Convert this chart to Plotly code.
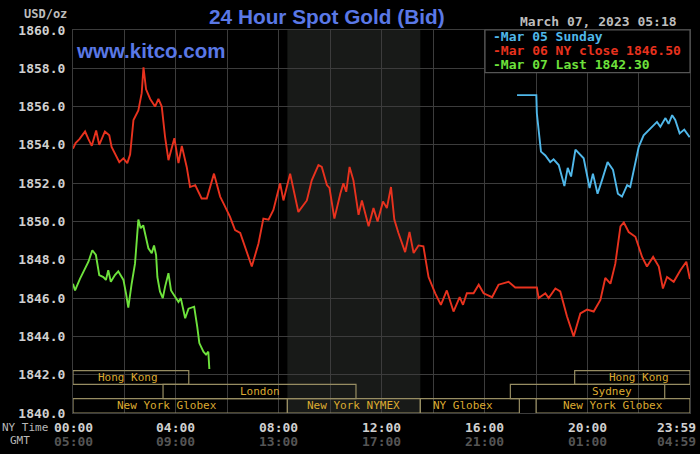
import plotly.graph_objects as go

# ---------------- data ----------------
red_hours = [0.0, 0.1, 0.25, 0.47, 0.6, 0.73, 0.9, 1.02, 1.24, 1.41, 1.5, 1.65, 1.8, 1.96, 2.11, 2.22,
             2.35, 2.54, 2.67, 2.74, 2.84, 3.0, 3.19, 3.32, 3.45, 3.58, 3.71, 3.94, 4.1, 4.23, 4.42,
             4.55, 4.75, 5.0, 5.2, 5.48, 5.72, 5.85, 6.1, 6.3, 6.5, 6.95, 7.21, 7.4, 7.6, 7.79, 8.05,
             8.18, 8.44, 8.76, 9.09, 9.28, 9.54, 9.67, 9.87, 9.97, 10.16, 10.39, 10.51, 10.62, 10.75,
             10.9, 11.1, 11.23, 11.49, 11.68, 11.84, 12.05, 12.2, 12.36, 12.49, 12.65, 12.91, 13.08,
             13.24, 13.43, 13.62, 13.82, 14.08, 14.3, 14.53, 14.79, 15.03, 15.16, 15.31, 15.57, 15.77,
             15.96, 16.29, 16.54, 16.93, 17.19, 18.03, 18.1, 18.36, 18.49, 18.75, 18.94, 19.2, 19.46,
             19.72, 19.98, 20.24, 20.5, 20.69, 20.89, 21.08, 21.28, 21.41, 21.6, 21.86, 22.12, 22.31,
             22.55, 22.77, 22.93, 23.09, 23.35, 23.61, 23.84, 23.98]
red_vals = [1853.8, 1854.1, 1854.3, 1854.7, 1854.3, 1853.95, 1854.75, 1854.0, 1854.7, 1854.5, 1853.9,
            1853.5, 1853.1, 1853.3, 1853.05, 1853.5, 1855.3, 1855.8, 1856.7, 1858.05, 1856.9, 1856.4,
            1856.0, 1856.4, 1856.0, 1854.4, 1853.2, 1854.35, 1853.05, 1853.95, 1852.85, 1851.8, 1851.9,
            1851.2, 1851.2, 1852.5, 1851.3, 1850.95, 1850.25, 1849.55, 1849.4, 1847.65, 1848.85, 1850.15,
            1850.1, 1850.6, 1852.0, 1851.1, 1852.5, 1850.5, 1851.1, 1852.15, 1852.95, 1852.85, 1851.9,
            1851.75, 1850.15, 1851.45, 1852.0, 1851.55, 1852.85, 1852.15, 1850.35, 1851.1, 1849.75,
            1850.7, 1850.0, 1851.05, 1850.7, 1851.8, 1850.1, 1849.4, 1848.4, 1849.45, 1848.35, 1848.75,
            1848.7, 1847.1, 1846.25, 1845.65, 1846.4, 1845.3, 1846.05, 1845.65, 1846.25, 1846.25, 1846.7,
            1846.25, 1846.05, 1846.7, 1846.85, 1846.55, 1846.55, 1846.0, 1846.25, 1846.0, 1846.5, 1846.35,
            1845.05, 1844.0, 1845.2, 1845.4, 1845.3, 1845.9, 1847.05, 1846.75, 1847.8, 1849.75, 1849.95,
            1849.45, 1849.2, 1848.15, 1847.65, 1848.15, 1847.65, 1846.5, 1847.1, 1846.85, 1847.45,
            1847.9, 1847.0]

blue_hours = [17.26, 18.01, 18.03, 18.1, 18.19, 18.36, 18.55, 18.68, 18.88, 19.1, 19.23, 19.36, 19.53,
              19.85, 20.08, 20.21, 20.39, 20.56, 20.78, 20.99, 21.18, 21.34, 21.54, 21.66, 21.86, 21.99,
              22.18, 22.44, 22.7, 22.83, 23.03, 23.15, 23.29, 23.41, 23.58, 23.76, 23.97]
blue_vals = [1856.6, 1856.6, 1855.65, 1854.6, 1853.65, 1853.45, 1853.1, 1853.25, 1852.95, 1851.85,
             1852.8, 1852.35, 1853.75, 1853.3, 1851.75, 1852.5, 1851.45, 1852.15, 1853.1, 1852.7,
             1851.45, 1851.3, 1851.9, 1851.8, 1853.05, 1853.9, 1854.5, 1854.85, 1855.2, 1854.95,
             1855.4, 1855.1, 1855.55, 1855.3, 1854.6, 1854.8, 1854.4]

green_hours = [0.0, 0.08, 0.27, 0.47, 0.6, 0.75, 0.89, 1.02, 1.18, 1.28, 1.37, 1.47, 1.63, 1.76, 1.96,
               2.06, 2.15, 2.28, 2.41, 2.54, 2.63, 2.73, 2.84, 2.93, 3.06, 3.15, 3.23, 3.28, 3.38, 3.49,
               3.58, 3.71, 3.81, 3.97, 4.1, 4.19, 4.36, 4.49, 4.71, 4.83, 4.91, 5.07, 5.17, 5.26, 5.3]
green_vals = [1846.75, 1846.4, 1847.0, 1847.55, 1847.9, 1848.5, 1848.25, 1847.2, 1847.1, 1846.95,
              1847.45, 1846.85, 1847.2, 1847.4, 1846.95, 1846.25, 1845.5, 1846.75, 1847.8, 1850.1,
              1849.65, 1849.8, 1849.2, 1848.6, 1848.35, 1848.75, 1848.25, 1847.1, 1846.35, 1846.0,
              1846.6, 1847.3, 1846.4, 1846.05, 1845.8, 1846.0, 1844.95, 1845.45, 1845.55, 1844.5,
              1843.65, 1843.2, 1843.05, 1843.2, 1842.3]

series_names = ["-Mar 05 Sunday", "-Mar 06 NY close 1846.50", "-Mar 07 Last 1842.30"]

session_names = ["Hong Kong", "London", "New York Globex", "New York NYMEX", "NY Globex",
                 "Sydney", "New York Globex", "Hong Kong"]
session_start = [0.0, 3.5, 0.0, 8.333, 13.5, 17.0, 18.0, 19.5]
session_end = [4.5, 11.0, 8.333, 13.5, 17.35, 23.0, 23.983, 23.983]
session_row = [1, 2, 3, 3, 3, 2, 3, 1]

nymex_hours = [8.333, 13.5]

ny_tick_labels = ["00:00", "04:00", "08:00", "12:00", "16:00", "20:00", "23:59"]
gmt_tick_labels = ["05:00", "09:00", "13:00", "17:00", "21:00", "01:00", "04:59"]
tick_hours = [0, 4, 8, 12, 16, 20, 23.983]

# ---------------- style ----------------
RED = "#e8321e"
BLUE = "#50b8ea"
GREEN = "#6ee23c"
GRID = "#3c3c3c"
MONO = "DejaVu Sans Mono"
SANS = "Liberation Sans"
TITLE_BLUE = "#5a78e6"
BOX = "#978d62"
BOX_TEXT = "#dcaa30"

XMAX = 23.983
row_y = {1: (1841.5, 1842.21), 2: (1840.75, 1841.5), 3: (1840.0, 1840.75)}
label_shift = {0: -3, 2: -13, 4: -7, 5: 24, 7: 7}

fig = go.Figure()
fig.add_trace(go.Scatter(x=green_hours, y=green_vals, mode="lines",
                         line=dict(color=GREEN, width=1.9), showlegend=False))
fig.add_trace(go.Scatter(x=red_hours, y=red_vals, mode="lines",
                         line=dict(color=RED, width=1.9), showlegend=False))
fig.add_trace(go.Scatter(x=blue_hours, y=blue_vals, mode="lines",
                         line=dict(color=BLUE, width=1.9), showlegend=False))

shapes = []
# NYMEX shaded band
shapes.append(dict(type="rect", xref="x", yref="y", x0=nymex_hours[0], x1=nymex_hours[1],
                   y0=1840, y1=1860, fillcolor="#181a18", line=dict(width=0), layer="below"))
annotations = []
# session boxes
for i, name in enumerate(session_names):
    y0, y1 = row_y[session_row[i]]
    shapes.append(dict(type="rect", xref="x", yref="y", x0=session_start[i], x1=session_end[i],
                       y0=y0, y1=y1, line=dict(color=BOX, width=1.2), fillcolor="rgba(0,0,0,0)",
                       layer="above"))
    annotations.append(dict(x=(session_start[i] + session_end[i]) / 2, y=(y0 + y1) / 2,
                            xref="x", yref="y", text=name, showarrow=False,
                            xshift=label_shift.get(i, 0),
                            font=dict(family=MONO, size=11, color=BOX_TEXT)))
# legend box
shapes.append(dict(type="rect", xref="paper", yref="paper",
                   x0=(485 - 73) / 617, x1=1.0, y0=(413 - 72.7) / 383, y1=1.0,
                   fillcolor="#000000", line=dict(color="#555555", width=1.2), layer="above"))
leg_colors = [BLUE, RED, GREEN]
for k, (nm, col) in enumerate(zip(series_names, leg_colors)):
    annotations.append(dict(xref="paper", yref="paper", x=(491 - 73) / 617,
                            y=(413 - (36.7 + 13.8 * k)) / 383, xanchor="left", yanchor="middle",
                            text="<b>" + nm + "</b>", showarrow=False,
                            font=dict(family=MONO, size=13, color=col)))

# title and texts
annotations.append(dict(xref="paper", yref="paper", x=(327 - 73) / 617, y=(413 - 16) / 383,
                        xanchor="center", yanchor="middle", text="<b>24 Hour Spot Gold (Bid)</b>",
                        showarrow=False, font=dict(family=SANS, size=20.8, color=TITLE_BLUE)))
annotations.append(dict(xref="paper", yref="paper", x=(74 - 73) / 617, y=(413 - 50) / 383,
                        xanchor="left", yanchor="middle", text="<b>www.kitco.com</b>",
                        showarrow=False, font=dict(family=SANS, size=20.5, color=TITLE_BLUE)))
annotations.append(dict(xref="paper", yref="paper", x=(679 - 73) / 617, y=(413 - 21) / 383,
                        xanchor="right", yanchor="middle", text="<b>March 07, 2023 05:18</b>",
                        showarrow=False, font=dict(family=MONO, size=13, color="#bdbdbd")))
annotations.append(dict(xref="paper", yref="paper", x=(69 - 73) / 617, y=(413 - 14) / 383,
                        xanchor="right", yanchor="middle", text="<b>USD/oz</b>",
                        showarrow=False, font=dict(family=MONO, size=12, color="#bdbdbd")))
annotations.append(dict(xref="paper", yref="paper", x=(50 - 73) / 617, y=(413 - 427) / 383,
                        xanchor="right", yanchor="middle", text="NY Time",
                        showarrow=False, font=dict(family=MONO, size=11, color="#b8b8b8")))
annotations.append(dict(xref="paper", yref="paper", x=(32 - 73) / 617, y=(413 - 441) / 383,
                        xanchor="right", yanchor="middle", text="GMT",
                        showarrow=False, font=dict(family=MONO, size=11, color="#b8b8b8")))
for h, ny, gm in zip(tick_hours, ny_tick_labels, gmt_tick_labels):
    last = h > 23
    annotations.append(dict(xref="x", yref="paper", x=h, y=(413 - 427) / 383,
                            xanchor="right" if last else "center", yanchor="middle",
                            xshift=8 if last else 0,
                            text="<b>" + ny + "</b>", showarrow=False,
                            font=dict(family=MONO, size=13, color="#d0d0d0")))
    annotations.append(dict(xref="x", yref="paper", x=h, y=(413 - 441.5) / 383,
                            xanchor="right" if last else "center", yanchor="middle",
                            xshift=8 if last else 0,
                            text="<b>" + gm + "</b>", showarrow=False,
                            font=dict(family=MONO, size=13, color="#555555")))

fig.update_layout(
    width=700, height=454,
    margin=dict(l=73, r=10, t=30, b=41),
    paper_bgcolor="#000000", plot_bgcolor="#000000",
    shapes=shapes, annotations=annotations, showlegend=False,
    xaxis=dict(range=[0, XMAX], tick0=0, dtick=2, showgrid=True, gridcolor=GRID, gridwidth=1.2,
               showticklabels=False, zeroline=False, showline=True, linecolor=GRID, linewidth=1.2,
               mirror=True, fixedrange=True),
    yaxis=dict(range=[1840, 1860], tick0=1840, dtick=2, tickformat=".1f", showgrid=True,
               gridcolor=GRID, gridwidth=1.2, zeroline=False, showline=True, linecolor=GRID,
               linewidth=1.2, mirror=True, ticks="", ticklabelstandoff=4,
               tickfont=dict(family=MONO, size=13, color="#d0d0d0", weight="bold"),
               fixedrange=True),
)

fig.write_html("out.html", config={"displayModeBar": False},
               post_script="document.body.style.margin='0';document.body.style.background='#000';"
                           "document.body.style.overflow='hidden';")
